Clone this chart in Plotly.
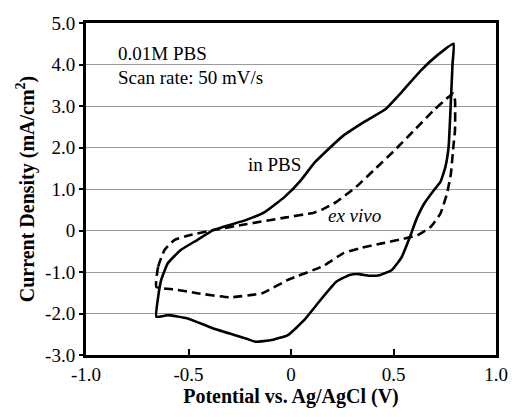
import plotly.graph_objects as go

# Cyclic voltammograms, 0.01M PBS, 50 mV/s
# Solid: in PBS (anodic sweep from -0.66 V up to 0.79 V, then cathodic return)
pbs_potential = [-0.657, -0.648, -0.633, -0.601, -0.538, -0.458, -0.379, -0.221, -0.126, -0.031,
                 0.048, 0.112, 0.159, 0.254, 0.365, 0.460, 0.539, 0.634, 0.713, 0.793,
                 0.788, 0.777, 0.769, 0.753, 0.729, 0.697, 0.650, 0.610, 0.579, 0.539,
                 0.492, 0.436, 0.381, 0.330, 0.286, 0.222, 0.143, 0.064, -0.015, -0.094,
                 -0.173, -0.221, -0.379, -0.505, -0.601, -0.657]
pbs_current = [-2.08, -1.60, -1.19, -0.79, -0.47, -0.23, 0.01, 0.25, 0.45, 0.81,
               1.21, 1.62, 1.85, 2.28, 2.64, 2.92, 3.33, 3.86, 4.22, 4.50,
               4.02, 2.80, 2.02, 1.53, 1.17, 0.97, 0.65, 0.25, -0.17, -0.65,
               -0.95, -1.07, -1.09, -1.05, -1.07, -1.23, -1.68, -2.16, -2.52, -2.64,
               -2.68, -2.60, -2.36, -2.12, -2.04, -2.08]

# Dashed: ex vivo
exvivo_potential = [-0.657, -0.648, -0.617, -0.569, -0.490, -0.379, -0.221, -0.031, 0.112, 0.159,
                    0.222, 0.317, 0.412, 0.507, 0.602, 0.697, 0.769, 0.792, 0.800, 0.800,
                    0.792, 0.780, 0.761, 0.729, 0.682, 0.618, 0.539, 0.444, 0.333, 0.254,
                    0.159, -0.015, -0.141, -0.300, -0.458, -0.569, -0.657]
exvivo_current = [-1.36, -0.87, -0.47, -0.23, -0.11, 0.01, 0.15, 0.31, 0.43, 0.52,
                  0.69, 1.05, 1.49, 1.94, 2.42, 2.90, 3.22, 3.30, 3.14, 2.42,
                  2.02, 1.37, 0.89, 0.41, 0.09, -0.11, -0.21, -0.31, -0.43, -0.55,
                  -0.85, -1.19, -1.51, -1.61, -1.51, -1.42, -1.36]

x_ticks = [-1.0, -0.5, 0.0, 0.5, 1.0]
x_tick_text = ["-1.0", "-0.5", "0", "0.5", "1.0"]
y_ticks = [-3, -2, -1, 0, 1, 2, 3, 4, 5]
y_tick_text = ["-3.0", "-2.0", "-1.0", "0", "1.0", "2.0", "3.0", "4.0", "5.0"]

SERIF = "Liberation Serif"

fig = go.Figure()
fig.add_trace(go.Scatter(
    x=pbs_potential, y=pbs_current, mode="lines", name="in PBS",
    line=dict(color="black", width=2.6, shape="spline", smoothing=0.4),
))
fig.add_trace(go.Scatter(
    x=exvivo_potential, y=exvivo_current, mode="lines", name="ex vivo",
    line=dict(color="black", width=2.6, dash="9px,5px", shape="spline", smoothing=0.4),
))

fig.add_annotation(x=-0.855, y=4.27, text="0.01M PBS", showarrow=False,
                   xanchor="left", yanchor="middle", font=dict(family=SERIF, size=19, color="black"))
fig.add_annotation(x=-0.855, y=3.68, text="Scan rate: 50 mV/s", showarrow=False,
                   xanchor="left", yanchor="middle", font=dict(family=SERIF, size=19, color="black"))
fig.add_annotation(x=0.06, y=1.6, text="in PBS", showarrow=False,
                   xanchor="right", yanchor="middle", font=dict(family=SERIF, size=19, color="black"))
fig.add_annotation(x=0.17, y=0.37, text="<i>ex vivo</i>", showarrow=False,
                   xanchor="left", yanchor="middle", font=dict(family=SERIF, size=19, color="black"))

fig.update_layout(
    width=520, height=417,
    margin=dict(l=86, r=13, t=23, b=62),
    paper_bgcolor="white", plot_bgcolor="white",
    showlegend=False,
    font=dict(family=SERIF, size=19, color="black"),
)
fig.update_xaxes(
    range=[-1.0, 1.0], tickvals=x_ticks, ticktext=x_tick_text,
    showgrid=False, zeroline=False,
    showline=True, linecolor="black", linewidth=3, mirror=True,
    ticks="inside", ticklen=6, tickwidth=2, tickcolor="black",
    tickfont=dict(family=SERIF, size=19, color="black"),
    title=dict(text="<b>Potential vs. Ag/AgCl (V)</b>", font=dict(family=SERIF, size=20, color="black"), standoff=4),
)
fig.update_yaxes(
    range=[-3.0, 5.0], tickvals=y_ticks, ticktext=y_tick_text,
    showgrid=True, gridcolor="#9a9a9a", gridwidth=1.2, zeroline=False,
    showline=True, linecolor="black", linewidth=3, mirror=True,
    ticks="outside", ticklen=4, tickwidth=2, tickcolor="black",
    tickfont=dict(family=SERIF, size=19, color="black"),
    title=dict(text="<b>Current Density (mA/cm<sup>2</sup>)</b>", font=dict(family=SERIF, size=20, color="black"), standoff=6),
)

fig.write_html("out.html")
